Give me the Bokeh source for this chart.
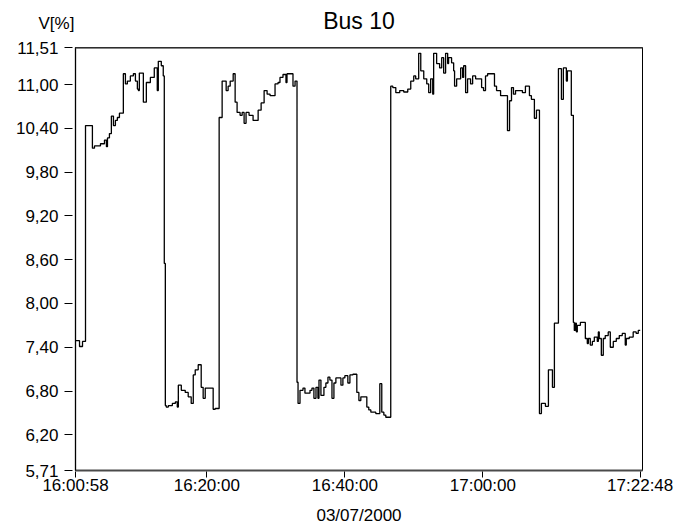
import pandas as pd
from bokeh.plotting import figure
from bokeh.models import (Range1d, FixedTicker, DatetimeTickFormatter,
                          CustomJSTickFormatter, Span, Title)
from bokeh.embed import file_html
from bokeh.resources import INLINE

# ---- data ----
start_time = "2000-07-03 16:00:58"
end_time = "2000-07-03 17:22:48"

# seconds elapsed since 16:00:58
t_sec = [0, 35, 61, 87, 147, 165, 217, 252, 269, 278, 295, 312, 330, 347, 364, 382,
         416, 434, 451, 477, 503, 521, 538, 547, 555, 590, 616, 651, 685, 711, 720, 746,
         763, 772, 781, 789, 807, 842, 868, 885, 894, 920, 954, 980, 1006, 1024, 1041,
         1067, 1093, 1110, 1128, 1197, 1215, 1249, 1275, 1310, 1327, 1345, 1371, 1388,
         1405, 1431, 1449, 1466, 1483, 1509, 1544, 1588, 1614, 1640, 1666, 1692, 1735,
         1761, 1778, 1804, 1830, 1839, 1891, 1909, 1926, 1935, 1952, 1978, 1995, 2039,
         2056, 2073, 2091, 2108, 2117, 2134, 2160, 2177, 2195, 2212, 2230, 2247, 2264,
         2308, 2325, 2342, 2368, 2386, 2412, 2446, 2464, 2481, 2533, 2550, 2568, 2611,
         2646, 2663, 2681, 2698, 2741, 2759, 2785, 2819, 2854, 2889, 2915, 2941, 2958,
         2984, 3002, 3028, 3054, 3071, 3088, 3106, 3114, 3140, 3166, 3184, 3201, 3218,
         3236, 3244, 3270, 3288, 3296, 3314, 3349, 3366, 3375, 3392, 3409, 3435, 3453,
         3479, 3531, 3548, 3565, 3583, 3643, 3661, 3696, 3756, 3774, 3791, 3808, 3826,
         3886, 3912, 3947, 3964, 3990, 4008, 4034, 4051, 4086, 4112, 4147, 4164, 4199,
         4225, 4242, 4268, 4277, 4311, 4329, 4337, 4346, 4355, 4363, 4390, 4433, 4450,
         4459, 4476, 4494, 4511, 4537, 4546, 4554, 4572, 4589, 4606, 4632, 4650, 4676,
         4702, 4728, 4754, 4780, 4789, 4815, 4849, 4875, 4893, 4910]

voltage = [7.49, 7.41, 7.48, 10.44, 10.13, 10.16, 10.19, 10.24, 10.15, 10.27, 10.33, 10.57,
           10.44, 10.51, 10.55, 10.61, 11.15, 11.01, 11.05, 11.12, 11.15, 11.05, 10.94,
           10.92, 11.16, 10.76, 11.03, 11.10, 11.23, 10.92, 11.32, 11.26, 11.12, 8.55,
           6.60, 6.58, 6.60, 6.63, 6.65, 6.58, 6.88, 6.81, 6.78, 6.72, 6.63, 7.02, 7.09,
           7.16, 6.85, 6.70, 6.84, 6.55, 6.56, 10.55, 11.05, 10.92, 10.98, 11.05, 11.15,
           10.76, 10.62, 10.58, 10.62, 10.47, 10.62, 10.58, 10.51, 10.65, 10.75, 10.92,
           10.87, 10.85, 11.01, 11.03, 11.10, 11.14, 11.03, 11.15, 10.98, 11.05, 6.92,
           6.63, 6.81, 6.84, 6.77, 6.81, 6.84, 6.70, 6.85, 6.70, 6.95, 6.74, 6.85, 6.91,
           6.99, 6.95, 6.70, 6.91, 6.98, 6.88, 6.98, 7.01, 6.91, 7.02, 7.03, 6.78, 6.67,
           6.72, 6.58, 6.54, 6.51, 6.49, 6.90, 6.51, 6.47, 6.44, 10.98, 10.96, 10.89,
           10.92, 10.90, 10.94, 11.05, 11.12, 11.08, 11.43, 11.19, 11.08, 11.01, 10.89,
           11.08, 10.87, 11.43, 11.29, 11.23, 11.37, 11.16, 11.43, 11.29, 11.37, 11.30,
           11.19, 10.98, 11.08, 11.23, 11.10, 11.26, 10.89, 11.08, 11.01, 11.12, 11.08,
           10.96, 10.92, 11.12, 11.15, 10.98, 10.92, 10.85, 10.37, 10.78, 10.96, 10.87,
           10.92, 10.89, 10.98, 10.85, 10.80, 10.54, 10.65, 6.49, 6.63, 6.59, 7.09, 6.85,
           7.73, 11.22, 10.80, 11.23, 11.05, 11.19, 10.58, 7.74, 7.63, 7.73, 7.61, 7.70,
           7.74, 7.52, 7.45, 7.52, 7.43, 7.48, 7.54, 7.48, 7.61, 7.52, 7.29, 7.52, 7.56,
           7.61, 7.40, 7.48, 7.52, 7.56, 7.59, 7.43, 7.52, 7.54, 7.61, 7.59, 7.63, 7.63]

x_tick_times = ["16:00:58", "16:20:00", "16:40:00", "17:00:00", "17:22:48"]
y_ticks = [5.71, 6.20, 6.80, 7.40, 8.00, 8.60, 9.20, 9.80, 10.40, 11.00, 11.51]

title_text = "Bus 10"
y_title = "V[%]"
date_text = "03/07/2000"

# ---- build ----
t0 = pd.Timestamp(start_time)
times = [t0 + pd.Timedelta(seconds=s) for s in t_sec]
x_tick_ms = [pd.Timestamp("2000-07-03 " + s).value / 1e6 for s in x_tick_times]

FONT = "Liberation Sans"

p = figure(width=687, height=527, x_axis_type="datetime",
           output_backend="svg", toolbar_location=None,
           x_range=Range1d(t0, pd.Timestamp(end_time) + pd.Timedelta(seconds=20)),
           y_range=Range1d(y_ticks[0], y_ticks[-1]),
           min_border_left=75, min_border_right=45, min_border_top=47,
           min_border_bottom=57)

p.step(times, voltage, mode="after", line_color="black", line_width=1.3)

# main title (outermost panel), pulled down onto the same line as the unit label
p.title.text = title_text
p.title.align = "center"
p.title.vertical_align = "bottom"
p.title.text_font = FONT
p.title.text_font_size = "23px"
p.title.text_font_style = "normal"
p.title.text_color = "black"
p.title.standoff = -66

# unit label above the y axis
p.add_layout(Title(text=y_title, align="left", offset=-37, vertical_align="top",
                   standoff=26, text_font=FONT, text_font_size="17px",
                   text_font_style="normal", text_color="black"), "above")

p.xgrid.visible = False
p.ygrid.visible = False
p.outline_line_color = "black"
p.outline_line_width = 1

fmt = "%H:%M:%S"
p.xaxis.ticker = FixedTicker(ticks=x_tick_ms)
p.xaxis.formatter = DatetimeTickFormatter(
    microseconds=fmt, milliseconds=fmt, seconds=fmt, minsec=fmt, minutes=fmt,
    hourmin=fmt, hours=fmt, days=fmt, months=fmt, years=fmt)
p.xaxis.major_label_text_font = FONT
p.xaxis.major_label_text_font_size = "17px"
p.xaxis.major_label_text_color = "black"
p.xaxis.major_tick_in = -1
p.xaxis.major_tick_out = 7
p.xaxis.minor_tick_line_color = None
p.xaxis.major_label_standoff = -2
p.xaxis.axis_line_color = "#4a4a4a"
p.xaxis.axis_line_width = 2
p.xaxis.axis_label = date_text
p.xaxis.axis_label_text_font = FONT
p.xaxis.axis_label_text_font_size = "17px"
p.xaxis.axis_label_text_font_style = "normal"
p.xaxis.axis_label_text_color = "black"
p.xaxis.axis_label_standoff = 8

p.yaxis.ticker = FixedTicker(ticks=y_ticks)
p.yaxis.formatter = CustomJSTickFormatter(code="return tick.toFixed(2).replace('.', ',');")
p.yaxis.major_label_text_font = FONT
p.yaxis.major_label_text_font_size = "17px"
p.yaxis.major_label_text_color = "black"
p.yaxis.major_tick_in = -3
p.yaxis.major_tick_out = 11
p.yaxis.minor_tick_line_color = None
p.yaxis.major_label_standoff = 6
p.yaxis.axis_line_color = "black"
p.yaxis.axis_line_width = 1.3

p.add_layout(Span(location=y_ticks[-1], dimension="width",
                  line_color="#5c5c5c", line_width=2.5))

open("out.html", "w").write(file_html(p, INLINE))
